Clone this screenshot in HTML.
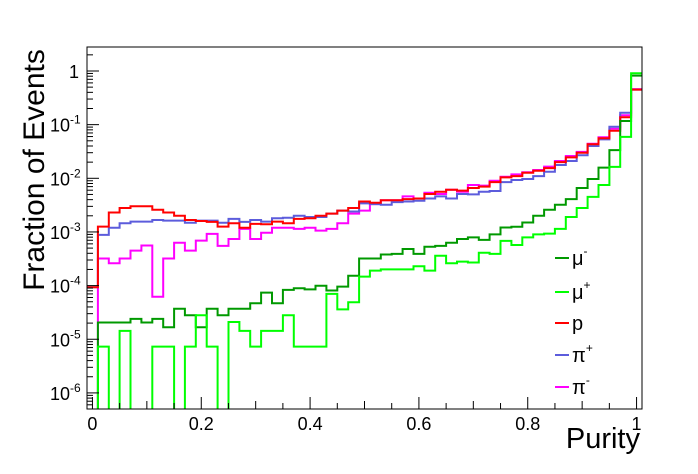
<!DOCTYPE html>
<html><head><meta charset="utf-8"><style>
html,body{margin:0;padding:0;background:#fff;}
svg{display:block;font-family:"Liberation Sans",Arial,sans-serif;}
</style></head><body>
<svg id="chart" width="698" height="474" viewBox="0 0 698 474">
<defs><clipPath id="clip"><rect x="87" y="47" width="555" height="362"/></clipPath></defs>
<g id="series" clip-path="url(#clip)"></g>
<rect x="87" y="47" width="555" height="362" fill="none" stroke="#000" stroke-width="1"/>
<g id="axes"></g>
<text x="44" y="170" font-size="30" text-anchor="middle" transform="rotate(-90 44 170)">Fraction of Events</text>
<text x="640" y="448" font-size="29" text-anchor="end">Purity</text>
<g id="legend"></g>
</svg>
<script>
const binLow = -0.01, binWidth = 0.02;
const muMinus = [0,2.05e-5,2.05e-5,2.05e-5,2.4e-5,2.05e-5,2.4e-5,1.67e-5,3.7e-5,2.8e-5,1.67e-5,3.7e-5,2.8e-5,3.7e-5,3.7e-5,4.7e-5,7.4e-5,4.7e-5,8.3e-5,8.9e-5,8.5e-5,9.9e-5,8.1e-5,9.6e-5,1.53e-4,3.2e-4,3.2e-4,3.8e-4,3.9e-4,4.8e-4,3.9e-4,5.3e-4,5.5e-4,6.3e-4,7.4e-4,7.9e-4,7.1e-4,9.0e-4,1.21e-3,1.25e-3,1.5e-3,2.0e-3,2.6e-3,3.2e-3,4.1e-3,6.6e-3,9.7e-3,0.0158,0.0336,0.117,0.82];
const muPlus = [0,7.3e-6,0,1.43e-5,0,0,7.3e-6,7.3e-6,0,7.3e-6,2.8e-5,7.3e-6,0,2.1e-5,1.43e-5,7.3e-6,1.43e-5,1.43e-5,2.8e-5,7.3e-6,7.3e-6,7.3e-6,7e-5,3.6e-5,4.9e-5,1.47e-4,1.9e-4,2.0e-4,2.0e-4,2.0e-4,2.3e-4,1.9e-4,3.6e-4,2.6e-4,2.8e-4,2.7e-4,4.1e-4,3.9e-4,6.8e-4,5.7e-4,7.9e-4,9.0e-4,9.3e-4,1.14e-3,1.9e-3,2.8e-3,4.5e-3,7.5e-3,0.0163,0.059,0.91];
const proton = [9.3e-5,1.26e-3,2.3e-3,2.8e-3,3.0e-3,3.0e-3,2.6e-3,2.3e-3,2.0e-3,1.67e-3,1.6e-3,1.54e-3,1.26e-3,1.45e-3,1.2e-3,1.41e-3,1.39e-3,1.56e-3,1.45e-3,1.75e-3,1.8e-3,2.0e-3,2.2e-3,2.5e-3,2.8e-3,3.7e-3,3.5e-3,3.9e-3,3.9e-3,4.1e-3,4.2e-3,5.1e-3,5.6e-3,6.1e-3,5.9e-3,6.6e-3,7.0e-3,8.5e-3,0.0104,0.011,0.0127,0.0138,0.0155,0.020,0.0245,0.030,0.043,0.056,0.077,0.137,0.45];
const piPlus = [9.3e-5,8.8e-4,1.2e-3,1.45e-3,1.56e-3,1.56e-3,1.67e-3,1.63e-3,1.63e-3,1.49e-3,1.63e-3,1.63e-3,1.49e-3,1.75e-3,1.54e-3,1.67e-3,1.56e-3,1.8e-3,1.84e-3,2.0e-3,1.9e-3,1.9e-3,2.2e-3,2.5e-3,2.4e-3,3.4e-3,3.3e-3,3.2e-3,3.6e-3,3.7e-3,3.8e-3,4.2e-3,4.6e-3,4.2e-3,5.1e-3,5.0e-3,5.6e-3,5.8e-3,8.5e-3,9.3e-3,9.7e-3,0.011,0.0133,0.0177,0.021,0.027,0.040,0.053,0.091,0.167,0.45];
const piMinus = [0,3.2e-4,2.6e-4,3.2e-4,4.5e-4,5.6e-4,6.2e-5,3.2e-4,6.3e-4,4.5e-4,6.9e-4,9.2e-4,5.5e-4,7.4e-4,1.14e-3,7.4e-4,9.7e-4,1.2e-3,1.2e-3,1.14e-3,1.2e-3,1.06e-3,1.14e-3,1.45e-3,2.2e-3,2.5e-3,3.3e-3,3.9e-3,3.9e-3,4.6e-3,4.2e-3,5.4e-3,5.1e-3,6.1e-3,5.6e-3,7.5e-3,7.3e-3,9.0e-3,0.0107,0.0118,0.013,0.0143,0.0165,0.021,0.026,0.031,0.044,0.058,0.084,0.15,0.46];
const seriesNames = ["mu-minus","mu-plus","proton","pi-plus","pi-minus"];
const legendLabels = [["μ","-"],["μ","+"],["p",""],["π","+"],["π","-"]];
const xTickLabels = ["0","0.2","0.4","0.6","0.8","1"];
const yTickExps = [0,-1,-2,-3,-4,-5,-6];

const X0=87,X1=642,Y0=47,Y1=409, xMin=-0.01,xMax=1.01, lMax=Math.log10(2.8), lMin=-6.3;
function xs(v){return X0+(v-xMin)/(xMax-xMin)*(X1-X0);}
function ys(v){ if(v<=0) return Y1+5; return Y0+(lMax-Math.log10(v))/(lMax-lMin)*(Y1-Y0);}
const NS="http://www.w3.org/2000/svg";
function mk(t,a,p){const e=document.createElementNS(NS,t);for(const k in a)e.setAttribute(k,a[k]);p.appendChild(e);return e;}
const colors=["#009900","#00ff00","#ff0000","#5c5cdc","#ff00ff"];
const data=[muMinus,muPlus,proton,piPlus,piMinus];
const sg=document.getElementById('series');
[4,3,2,0,1].forEach(si=>{
  const arr=data[si]; let d="";
  for(let i=0;i<arr.length;i++){
    const xa=xs(binLow+i*binWidth), xb=xs(binLow+(i+1)*binWidth), y=ys(arr[i]);
    d+=(i===0?"M":"L")+xa.toFixed(1)+","+y.toFixed(1)+"L"+xb.toFixed(1)+","+y.toFixed(1);
  }
  const p=mk('path',{d:d,fill:"none",stroke:colors[si],"stroke-width":2},sg);
  
  
});
const ax=document.getElementById('axes');
for(let k=0;k<=20;k++){
  const v=k*0.05, x=xs(v); const len=(k%4===0)?12:(k%2===0?8:6);
  const t=mk('line',{x1:x,x2:x,y1:Y1,y2:Y1-len,stroke:"#000","stroke-width":1},ax);
  
  
}
xTickLabels.forEach((s,i)=>{
  const t=mk('text',{x:xs(i*0.2),y:430,"font-size":18,"text-anchor":"middle"},ax); t.textContent=s;
  
  
});
for(let e=-7;e<=0;e++){
  for(let m=1;m<=9;m++){
    const v=m*Math.pow(10,e), y=ys(v); if(y<Y0||y>Y1) continue;
    const len=m===1?12:6;
    const t=mk('line',{x1:X0,x2:X0+len,y1:y,y2:y,stroke:"#000","stroke-width":1},ax);
    
    
  }
}
yTickExps.forEach(e=>{
  const y=ys(Math.pow(10,e));
  const t=mk('text',{x:e===0?79:70,y:y+7,"font-size":18,"text-anchor":"end"},ax);
  t.textContent = e===0 ? "1" : "10";
  
  
  if(e!==0){
    const s=mk('text',{x:70,y:y-1,"font-size":12,"text-anchor":"start"},ax); s.textContent=String(e);
    
    
  }
});
const lg=document.getElementById('legend');
const legY=[258,292,323,355,387];
legendLabels.forEach((l,i)=>{
  const y=legY[i];
  const ln=mk('line',{x1:555,x2:569,y1:y,y2:y,stroke:colors[i],"stroke-width":2},lg);
  
  
  const t=mk('text',{x:572,y:y+7,"font-size":20},lg); t.textContent=l[0];
  
  
  if(l[1]){const s=mk('tspan',{dy:-10,"font-size":12},t); s.textContent=l[1];}
});
</script>
</body></html>
